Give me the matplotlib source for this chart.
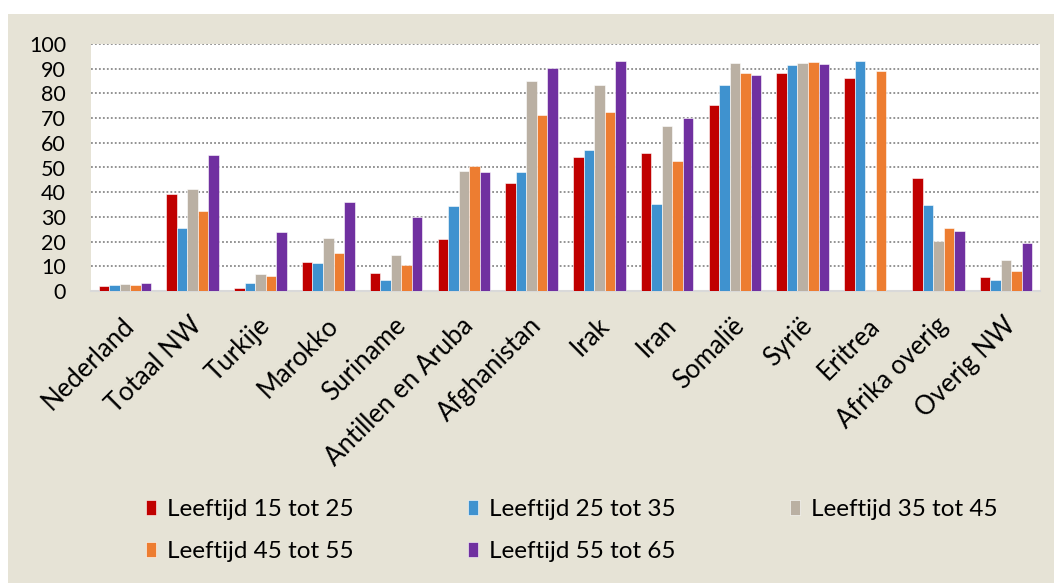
import matplotlib
matplotlib.use("Agg")
import matplotlib.pyplot as plt
import matplotlib.transforms as mtransforms
import numpy as np
from matplotlib.patches import Rectangle

plt.rcParams["font.family"] = ["Lato", "DejaVu Sans"]

categories = ["Nederland", "Totaal NW", "Turkije", "Marokko", "Suriname",
              "Antillen en Aruba", "Afghanistan", "Irak", "Iran", "Somalië",
              "Syrië", "Eritrea", "Afrika overig", "Overig NW"]

age_15_25 = [2.0, 39.2, 1.4, 11.6, 7.4, 21.2, 43.9, 54.2, 55.8, 75.4, 88.2, 86.2, 45.9, 5.5]
age_25_35 = [2.3, 25.7, 3.1, 11.4, 4.6, 34.6, 48.0, 57.2, 35.1, 83.6, 91.5, 93.2, 34.7, 4.5]
age_35_45 = [2.7, 41.2, 6.8, 21.6, 14.7, 48.5, 84.9, 83.5, 66.8, 92.2, 92.3, np.nan, 20.4, 12.7]
age_45_55 = [2.4, 32.3, 5.9, 15.5, 10.5, 50.7, 71.2, 72.6, 52.6, 88.1, 92.7, 89.2, 25.7, 8.1]
age_55_65 = [3.4, 54.9, 23.9, 35.9, 29.9, 48.1, 90.1, 93.0, 69.9, 87.4, 92.0, np.nan, 24.1, 19.3]

series_labels = ["Leeftijd 15 tot 25", "Leeftijd 25 tot 35", "Leeftijd 35 tot 45",
                 "Leeftijd 45 tot 55", "Leeftijd 55 tot 65"]
series = [age_15_25, age_25_35, age_35_45, age_45_55, age_55_65]
colors = ["#C00000", "#3F92CF", "#BAB0A3", "#ED7D31", "#7030A0"]

W, H = 1054, 583
fig = plt.figure(figsize=(W / 100, H / 100), dpi=100)
fig.patch.set_facecolor("white")
# beige frame behind everything
fig.patches.append(Rectangle((8 / W, 0), 1 - 8 / W, 1 - 14 / H,
                             transform=fig.transFigure, facecolor="#E6E3D6",
                             edgecolor="none", zorder=-10))

ax = fig.add_axes([91 / W, 1 - 291 / H, 949 / W, 247 / H])
ax.set_facecolor("white")

x = np.arange(len(categories))
bw = 0.155
handles = []
for i, (vals, lab, col) in enumerate(zip(series, series_labels, colors)):
    offs = (i - 2) * bw
    b = ax.bar(x + offs, vals, width=bw, color=col, edgecolor="white",
               linewidth=0.4, label=lab, zorder=3)
    handles.append(b)

ax.set_xlim(-0.5, len(categories) - 0.5)
ax.set_ylim(0, 100)
ax.set_yticks(range(0, 101, 10))
ax.yaxis.grid(True, linestyle=(0, (1, 1.2)), color="#8A8A8A", linewidth=1.3, zorder=0)
ax.set_axisbelow(True)
for s in ["top", "right", "left"]:
    ax.spines[s].set_visible(False)
ax.spines["bottom"].set_color("#D9D9D9")
ax.spines["bottom"].set_linewidth(1.5)
ax.tick_params(axis="both", length=0, colors="black")
ax.tick_params(axis="y", pad=18, labelsize=15.5)
ax.set_xticks(x)
ax.set_xticklabels(categories, rotation=45, ha="right", va="baseline",
                   rotation_mode="anchor", fontsize=18.5)
ax.tick_params(axis="x", pad=26)
# shift labels a bit to the right, like the original
shift = mtransforms.ScaledTranslation(11 / 100, 0, fig.dpi_scale_trans)
for lbl in ax.get_xticklabels():
    lbl.set_transform(lbl.get_transform() + shift)

order = [0, 3, 1, 4, 2]
leg = fig.legend([handles[k] for k in order], [series_labels[k] for k in order],
                 ncol=3, loc="upper left", bbox_to_anchor=(134 / W, 1 - 487 / H),
                 frameon=False, fontsize=17.5, borderpad=0, handlelength=0.41,
                 handleheight=0.55, handletextpad=0.45, columnspacing=4.7,
                 labelspacing=0.87)

fig.savefig("out.png", dpi=100)
